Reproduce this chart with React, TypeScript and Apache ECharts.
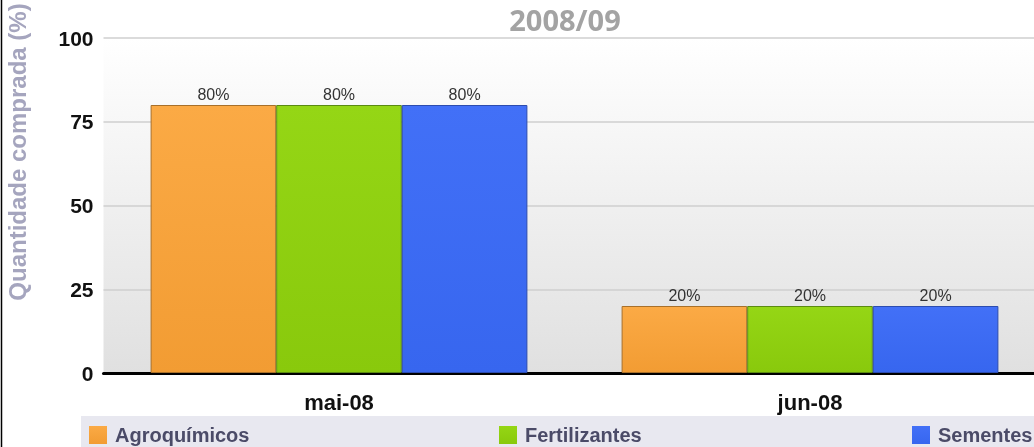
import React, { useEffect, useRef } from "react";
import * as echarts from "echarts";

const categories = ["mai-08", "jun-08"];
const seriesNames = ["Agroquímicos", "Fertilizantes", "Sementes"];
const agroquimicos = [80, 20];
const fertilizantes = [80, 20];
const sementes = [80, 20];
const yTicks = [0, 25, 50, 75, 100];
const titleText = "2008/09";
const yAxisTitle = "Quantidade comprada (%)";

const colors = [
  { top: "#fbaa45", bottom: "#f29c33", border: "#a8702a" },
  { top: "#95d615", bottom: "#89c90c", border: "#5b8a12" },
  { top: "#4270f7", bottom: "#3766ef", border: "#2c4cae" },
];

export default function App() {
  const ref = useRef<HTMLDivElement>(null);
  useEffect(() => {
    if (!ref.current) return;
    const chart = echarts.init(ref.current, null, { renderer: "svg" });
    const values = [agroquimicos, fertilizantes, sementes];
    const font = "'Liberation Sans', Arial, sans-serif";
    const legendLefts = [89, 499, 912];
    chart.setOption({
      animation: false,
      textStyle: { fontFamily: font },
      grid: {
        left: 103.5,
        top: 38,
        width: 942,
        bottom: 74,
        containLabel: false,
        outerBoundsMode: "none",
        show: true,
        borderWidth: 0,
        backgroundColor: new echarts.graphic.LinearGradient(0, 0, 0, 1, [
          { offset: 0, color: "#ffffff" },
          { offset: 1, color: "#e0e0e0" },
        ]),
      },
      legend: seriesNames.map((n, i) => ({
        data: [n],
        left: legendLefts[i],
        top: 425,
        itemWidth: 18,
        itemHeight: 18,
        icon: "rect",
        padding: 0,
        itemStyle: { borderWidth: 0 },
        textStyle: {
          fontFamily: font,
          fontWeight: "bold",
          fontSize: 20,
          color: "#4b4b68",
          padding: [1, 0, 0, 3],
        },
      })),
      xAxis: {
        type: "category",
        data: categories,
        axisLine: { lineStyle: { color: "#000", width: 3 } },
        axisTick: {
          alignWithLabel: true,
          length: 6,
          lineStyle: { color: "#000", width: 3 },
        },
        axisLabel: {
          fontFamily: font,
          fontWeight: "bold",
          fontSize: 22,
          color: "#111",
          margin: 18,
        },
      },
      yAxis: {
        type: "value",
        min: 0,
        max: 100,
        interval: 25,
        axisLine: { show: false },
        axisTick: { show: false },
        splitLine: { lineStyle: { color: "#cfcfcf", width: 1.5 } },
        axisLabel: {
          fontFamily: font,
          fontWeight: "bold",
          fontSize: 21,
          color: "#111",
          margin: 10,
          formatter: (v: number) => (yTicks.includes(v) ? String(v) : ""),
        },
      },
      series: seriesNames.map((n, i) => ({
        name: n,
        type: "bar",
        data: values[i],
        barGap: "0%",
        barCategoryGap: "20%",
        itemStyle: {
          color: new echarts.graphic.LinearGradient(0, 0, 0, 1, [
            { offset: 0, color: colors[i].top },
            { offset: 1, color: colors[i].bottom },
          ]),
          borderColor: colors[i].border,
          borderWidth: 1,
        },
        label: {
          show: true,
          position: "top",
          distance: 3,
          formatter: "{c}%",
          fontFamily: font,
          fontSize: 16,
          color: "#333",
        },
      })),
      graphic: [
        {
          type: "rect",
          z: -1,
          shape: { x: 81, y: 416, width: 960, height: 40 },
          style: { fill: "#e8e8f0" },
        },
        {
          type: "line",
          shape: { x1: 1.5, y1: 0, x2: 1.5, y2: 447 },
          style: { stroke: "#000", lineWidth: 1.5 },
        },
        {
          type: "text",
          x: 565,
          y: 19,
          style: {
            text: titleText,
            fontFamily: "'Open Sans', sans-serif",
            fontWeight: "bold",
            fontSize: 29,
            fill: "#a3a3a3",
            align: "center",
            verticalAlign: "middle",
          },
        },
        {
          type: "text",
          x: 17,
          y: 152,
          rotation: Math.PI / 2,
          style: {
            text: yAxisTitle,
            fontFamily: font,
            fontWeight: "bold",
            fontSize: 24,
            fill: "#a5a5be",
            align: "center",
            verticalAlign: "middle",
          },
        },
      ],
    });
    return () => chart.dispose();
  }, []);
  return (
    <div
      ref={ref}
      style={{ position: "fixed", left: 0, top: 0, width: 1034, height: 447 }}
    />
  );
}
